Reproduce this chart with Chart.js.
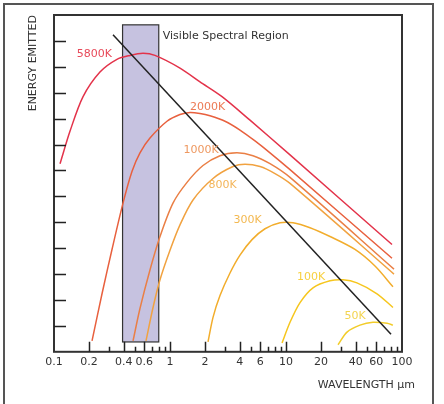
<!DOCTYPE html>
<html>
<head>
<meta charset="utf-8">
<script src="https://cdn.jsdelivr.net/npm/chart.js@4.4.0/dist/chart.umd.min.js"></script>
<style>
body{margin:0;background:#fff;}
#wrap{position:relative;width:444px;height:404px;}
#frame{position:absolute;left:3px;top:3px;width:427px;height:402px;border:2px solid #555;border-bottom:none;pointer-events:none;}
</style>
</head>
<body>
<div id="wrap">
<canvas id="bb" width="444" height="404"></canvas>
<div id="frame"></div>
</div>
<script>
// wavelength (µm) / relative energy
const wl5800=[0.1127,0.1375,0.178,0.249,0.349,0.452,0.585,0.742,1.219,1.814,2.808,4.894,10.83,82.0];
const en5800=[7.26,8.52,9.85,10.80,11.29,11.44,11.52,11.44,10.95,10.42,9.85,8.94,7.60,4.14];
const wl2000=[0.2127,0.2594,0.3162,0.3934,0.470,0.551,0.672,0.942,1.219,1.487,1.814,2.212,2.979,4.012,5.405,7.28,10.83,82.0];
const en2000=[0.42,2.24,3.95,5.74,6.96,7.68,8.25,8.90,9.16,9.24,9.20,9.11,8.90,8.56,8.14,7.68,7.03,3.61];
const wl1000=[0.480,0.551,0.672,0.820,1.061,1.402,1.925,2.698,3.781,5.194,7.28,10.83,85.3];
const en1000=[0.42,1.67,3.16,4.45,5.74,6.54,7.19,7.57,7.68,7.57,7.26,6.73,3.19];
const wl800=[0.621,0.714,0.820,1.0,1.219,1.579,2.349,3.493,4.432,5.97,8.04,10.83,85.3];
const en800=[0.42,1.71,2.78,3.92,4.90,5.86,6.69,7.15,7.24,7.15,6.88,6.50,3.00];
const wl300=[2.127,2.349,2.698,3.290,4.012,5.093,6.592,8.88,11.49,16.10,23.95,39.33,58.5,83.6];
const en300=[0.38,1.33,2.17,3.04,3.73,4.33,4.75,4.98,4.98,4.79,4.45,3.95,3.31,2.51];
const wl100=[9.24,10.83,13.21,17.09,23.95,31.0,40.9,60.9,83.6];
const en100=[0.34,1.14,1.90,2.47,2.74,2.78,2.66,2.24,1.71];
const wl50=[28.08,33.57,43.4,56.2,74.3,83.6];
const en50=[0.27,0.76,1.03,1.14,1.10,1.03];
// Wien displacement line
const wienX=[0.3226,80.4];
const wienY=[12.24,0.68];
// visible band
const visX=[0.39,0.80];
const visY=[0.38,12.62];

const temps=[5800,2000,1000,800,300,100,50];
const lineColors=['#e3334a','#e8603e','#ea7f45','#f1a240','#f2ad2c','#f6c61e','#f2cc2a'];
const labelColors=['#e84a5a','#ec7a55','#ee9860','#f3b55a','#f3b850','#f7d040','#f3d450'];
const labX=[0.223,2.105,1.85,2.835,4.656,16.43,39.33];
const labY=[11.48,9.43,7.79,6.43,5.10,2.89,1.37];

const xTicks=[0.1,0.2,0.3,0.4,0.5,0.6,0.7,0.8,0.9,1,2,3,4,5,6,7,8,9,10,20,30,40,50,60,70,80,90,100];
const xLabels=[0.1,0.2,0.4,0.6,1,2,4,6,10,20,40,60,100];
const yTicks=[1,2,3,4,5,6,7,8,9,10,11,12];

const pts=(xs,ys)=>xs.map((v,i)=>({x:v,y:ys[i]}));
const series=[[wl5800,en5800],[wl2000,en2000],[wl1000,en1000],[wl800,en800],[wl300,en300],[wl100,en100],[wl50,en50]];

const datasets=series.map((s,i)=>({
  label:temps[i]+'K',
  data:pts(s[0],s[1]),
  borderColor:lineColors[i],
  borderWidth:1.5,
  pointRadius:0,
  fill:false,
  tension:0.3
}));
datasets.unshift({
  label:'Wien',
  data:pts(wienX,wienY),
  borderColor:'#222',
  borderWidth:1.5,
  pointRadius:0,
  fill:false
});

const decor={
  id:'decor',
  beforeDatasetsDraw(chart){
    const {ctx,scales:{x,y}}=chart;
    const l=x.getPixelForValue(visX[0]), r=x.getPixelForValue(visX[1]);
    const t=y.getPixelForValue(visY[1]), b=y.getPixelForValue(visY[0]);
    ctx.save();
    ctx.fillStyle='#c6c2e0';
    ctx.fillRect(l,t,r-l,b-t);
    ctx.strokeStyle='#333';ctx.lineWidth=1.2;
    ctx.strokeRect(l,t,r-l,b-t);
    ctx.restore();
  },
  afterDatasetsDraw(chart){
    const {ctx,chartArea:a,scales:{x,y}}=chart;
    ctx.save();
    ctx.strokeStyle='#333';ctx.lineWidth=2;
    ctx.strokeRect(a.left,a.top,a.right-a.left,a.bottom-a.top);
    ctx.strokeStyle='#222';ctx.lineWidth=1.5;
    ctx.beginPath();
    yTicks.forEach(v=>{
      const py=Math.round(y.getPixelForValue(v))+0.5;
      ctx.moveTo(a.left,py);ctx.lineTo(a.left+12,py);
    });
    xTicks.forEach(v=>{
      if(v===0.1||v===100) return;
      const px=Math.round(x.getPixelForValue(v))+0.5;
      const len=xLabels.includes(v)?10:5;
      ctx.moveTo(px,a.bottom);ctx.lineTo(px,a.bottom-len);
    });
    ctx.stroke();
    ctx.font='11px "DejaVu Sans"';
    ctx.textAlign='center';ctx.textBaseline='middle';
    temps.forEach((t,i)=>{
      ctx.fillStyle=labelColors[i];
      ctx.fillText(t+'K',x.getPixelForValue(labX[i]),y.getPixelForValue(labY[i]));
    });
    ctx.fillStyle='#333';
    ctx.textAlign='left';
    ctx.fillText('Visible Spectral Region',x.getPixelForValue(visX[1])+4,y.getPixelForValue(12.2));
    ctx.textAlign='right';
    ctx.fillText('WAVELENGTH µm',a.right+13,a.bottom+33);
    ctx.translate(33,a.top);
    ctx.rotate(-Math.PI/2);
    ctx.fillText('ENERGY EMITTED',0,0);
    ctx.restore();
  }
};

new Chart(document.getElementById('bb'),{
  type:'line',
  data:{datasets:datasets},
  plugins:[decor],
  options:{
    responsive:false,
    animation:false,
    devicePixelRatio:1,
    layout:{padding:{left:54,top:15,right:42,bottom:31}},
    plugins:{legend:{display:false},tooltip:{enabled:false}},
    scales:{
      x:{
        type:'logarithmic',min:0.1,max:100,
        afterBuildTicks:(scale)=>{scale.ticks=xTicks.map(v=>({value:v}));},
        grid:{display:false,drawTicks:false},
        border:{display:false},
        ticks:{
          autoSkip:false,maxRotation:0,minRotation:0,padding:4,
          color:'#333',font:{family:'DejaVu Sans',size:11},
          callback:(v)=>xLabels.includes(v)?String(v):''
        }
      },
      y:{type:'linear',min:0,max:13,display:false}
    }
  }
});
</script>
</body>
</html>
